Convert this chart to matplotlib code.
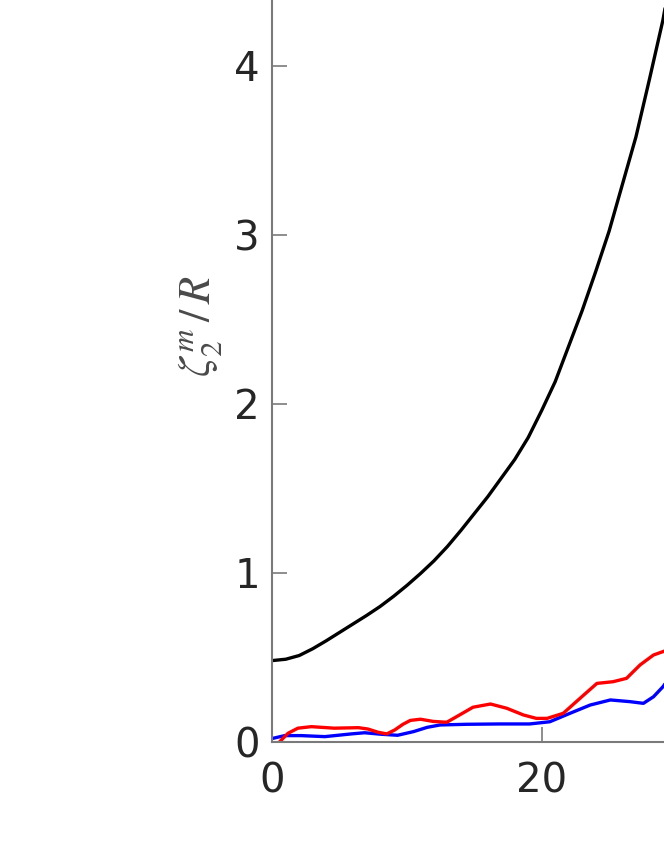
import matplotlib
matplotlib.use("Agg")
import matplotlib.pyplot as plt

# black curve
x_black = [0, 1, 2, 3, 4, 5, 6, 7, 8, 9, 10, 11, 12, 13, 14, 15, 16, 17, 18, 19, 20,
           21, 22, 23, 24, 25, 26, 27, 28, 29, 29.4]
y_black = [0.48, 0.488, 0.51, 0.55, 0.597, 0.647, 0.697, 0.747, 0.80, 0.86, 0.925, 0.995, 1.07, 1.155, 1.25,
           1.35, 1.45, 1.56, 1.67, 1.80, 1.96, 2.13, 2.34, 2.55, 2.78, 3.02, 3.30, 3.58, 3.92, 4.27, 4.45]

# red curve
x_red = [0.55, 1.17, 1.9, 2.9, 4.6, 6.4, 7.1, 7.85, 8.5, 9.1, 9.7, 10.25, 11.0, 11.95, 12.95, 13.9,
         14.9, 16.2, 17.4, 18.65, 19.6, 20.4, 21.6, 22.85, 24.1, 25.3, 26.3, 27.3, 28.3, 29.0, 29.4]
y_red = [0.0, 0.05, 0.08, 0.089, 0.08, 0.083, 0.075, 0.056, 0.046, 0.07, 0.103, 0.126, 0.133, 0.12, 0.115,
         0.158, 0.204, 0.223, 0.198, 0.158, 0.138, 0.138, 0.168, 0.257, 0.345, 0.355, 0.375, 0.454, 0.513,
         0.533, 0.545]

# blue curve
x_blue = [0.05, 0.92, 2.15, 3.9, 5.85, 6.85, 8.1, 9.3, 10.5, 11.5, 12.45, 14.4, 16.9, 19.1, 20.6,
          22.1, 23.6, 25.1, 26.55, 27.55, 28.3, 29.0, 29.4]
y_blue = [0.02, 0.036, 0.036, 0.03, 0.046, 0.053, 0.044, 0.038, 0.06, 0.085, 0.099, 0.103, 0.105, 0.105,
          0.118, 0.168, 0.217, 0.247, 0.237, 0.227, 0.266, 0.325, 0.37]

x_ticks = [0, 20]
y_ticks = [0, 1, 2, 3, 4]

plt.rcParams['mathtext.fontset'] = 'stix'

fig = plt.figure(figsize=(6.64, 8.6), dpi=100)
ax = fig.add_axes([272.3 / 664, 118.3 / 860, 391.7 / 664, 741.7 / 860])

ax.plot(x_black, y_black, color='black', lw=2.4, solid_capstyle='round')
ax.plot(x_blue, y_blue, color='#0000ff', lw=2.4, solid_capstyle='round')
ax.plot(x_red, y_red, color='#ff0000', lw=2.4, solid_capstyle='round')

ax.set_xlim(0, 391.7 / 13.47)
ax.set_ylim(0, 741.7 / 169)
ax.set_xticks(x_ticks)
ax.set_yticks(y_ticks)

for s in ['top', 'right']:
	ax.spines[s].set_visible(False)
for s in ['left', 'bottom']:
	ax.spines[s].set_color('#7a7a7a')
	ax.spines[s].set_linewidth(1.5)

ax.tick_params(direction='in', length=11, width=1.2, color='#7a7a7a',
			   labelsize=29, labelcolor='#262626')
ax.tick_params(axis='x', pad=14)
ax.tick_params(axis='y', pad=9)

fig.text(200 / 664, 1 - 326 / 860, r'$\zeta_2^m\,/\,R$', rotation=90, ha='center', va='center',
		 fontsize=32, color='#4a4a4a')

fig.savefig('out.png', dpi=100)
